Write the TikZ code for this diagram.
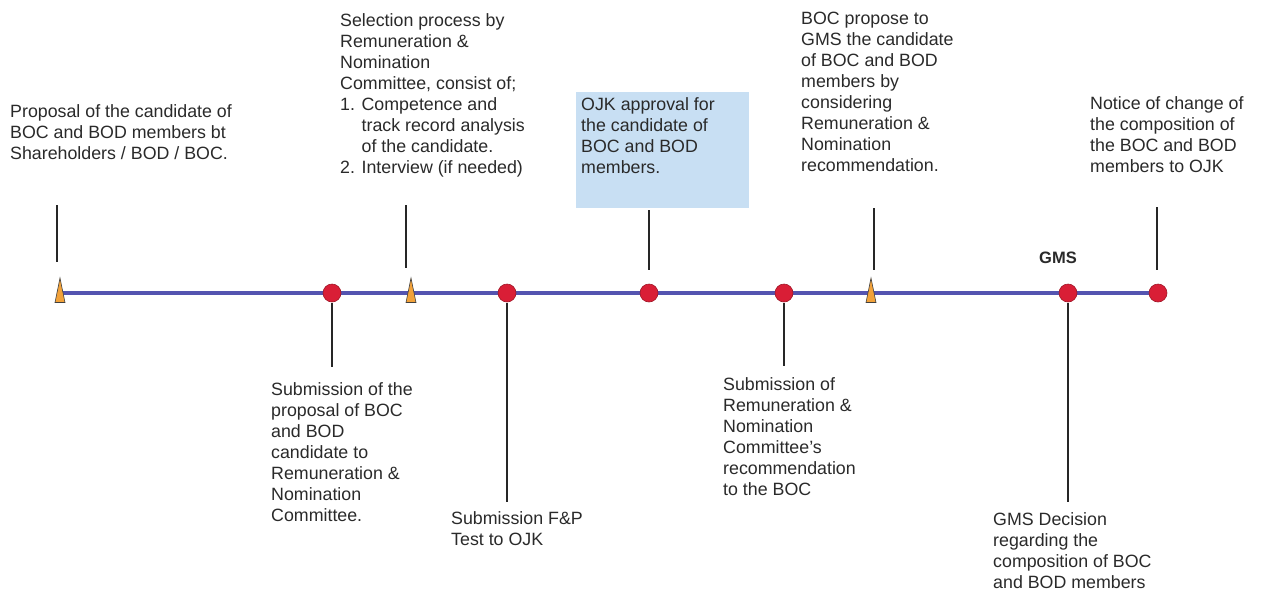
\documentclass[tikz,border=0pt]{standalone}
\usepackage{fontspec}
\setmainfont{Liberation Sans}
\definecolor{tline}{HTML}{5454B0}
\definecolor{dotred}{HTML}{D91E36}
\definecolor{dotedge}{HTML}{A01828}
\definecolor{cone}{HTML}{F2A23A}
\definecolor{boxblue}{HTML}{C8DFF3}
\definecolor{txt}{HTML}{2A2A2A}
\begin{document}
\begin{tikzpicture}[x=1pt,y=-1pt,
  lbl/.style={anchor=north west,inner sep=0pt,align=left,text=txt,font=\fontsize{17.8}{21}\selectfont},
  dot/.style={circle,fill=dotred,draw=dotedge,line width=0.6pt,minimum size=18pt,inner sep=0pt},
  conn/.style={draw=black!85,line width=1.1pt},
  axis/.style={draw=tline,line width=3.6pt}]
\useasboundingbox (0,0) rectangle (1264,595);
\fill[white] (0,0) rectangle (1264,595);
% OJK box
\fill[boxblue] (576,92) rectangle (749,208);
% timeline
\coordinate (t0) at (60,293);
\coordinate (t9) at (1158,293);
\draw[axis] (t0) -- (t9);
% cone markers
\foreach \n/\x in {c1/60,c2/411,c3/871}{
  \coordinate (\n) at (\x,278);
  \filldraw[fill=cone,draw=black!75,line width=0.6pt] (\x-5,302.5) -- (\x,278) -- (\x+5,302.5) -- cycle;
}
% dots
\node[dot] (d1) at (332,293) {};
\node[dot] (d2) at (507,293) {};
\node[dot] (d3) at (649,293) {};
\node[dot] (d4) at (784,293) {};
\node[dot] (d5) at (1068,293) {};
\node[dot] (d6) at (1158,293) {};
% labels above
\node[lbl] (a1) at (10,104.5) {Proposal of the candidate of\\BOC and BOD members bt\\Shareholders / BOD / BOC.};
\node[lbl] (a2) at (340,13.5) {Selection process by\\Remuneration \&\\Nomination\\Committee, consist of;\\1. Competence and\\\phantom{1. }track record analysis\\\phantom{1. }of the candidate.\\2. Interview (if needed)};
\node[lbl] (a3) at (581,97.5) {OJK approval for\\the candidate of\\BOC and BOD\\members.};
\node[lbl] (a4) at (801,11.5) {BOC propose to\\GMS the candidate\\of BOC and BOD\\members by\\considering\\Remuneration \&\\Nomination\\recommendation.};
\node[lbl] (a5) at (1090,96.5) {Notice of change of\\the composition of\\the BOC and BOD\\members to OJK};
\node[anchor=center,inner sep=0pt,text=txt,font=\fontsize{16.5}{18}\bfseries\selectfont] (gms) at (1058,258) {GMS};
% labels below
\node[lbl] (b1) at (271,382.5) {Submission of the\\proposal of BOC\\and BOD\\candidate to\\Remuneration \&\\Nomination\\Committee.};
\node[lbl] (b2) at (451,511.5) {Submission F\&P\\Test to OJK};
\node[lbl] (b3) at (723,377.5) {Submission of\\Remuneration \&\\Nomination\\Committee's\\recommendation\\to the BOC};
\node[lbl] (b4) at (993,512.5) {GMS Decision\\regarding the\\composition of BOC\\and BOD members};
% connector ends
\coordinate (u1) at (57,205);  \coordinate (v1) at (57,262);
\coordinate (u2) at (406,205); \coordinate (v2) at (406,268);
\coordinate (u3) at (649,210); \coordinate (v3) at (649,270);
\coordinate (u4) at (874,208); \coordinate (v4) at (874,270);
\coordinate (u5) at (1157,207); \coordinate (v5) at (1157,270);
\coordinate (w1) at (332,367);
\coordinate (w2) at (507,502);
\coordinate (w3) at (784,366);
\coordinate (w4) at (1068,502);
\draw[conn] (u1) -- (v1);
\draw[conn] (u2) -- (v2);
\draw[conn] (u3) -- (v3);
\draw[conn] (u4) -- (v4);
\draw[conn] (u5) -- (v5);
\draw[conn] (d1.south) ++(0,1) -- (w1);
\draw[conn] (d2.south) ++(0,1) -- (w2);
\draw[conn] (d4.south) ++(0,1) -- (w3);
\draw[conn] (d5.south) ++(0,1) -- (w4);
\end{tikzpicture}
\end{document}
